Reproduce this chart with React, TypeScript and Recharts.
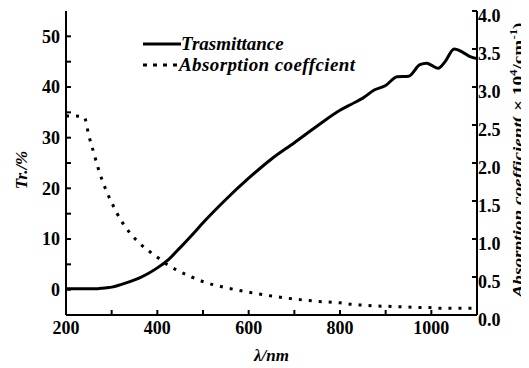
import {
  ComposedChart,
  Line,
  XAxis,
  YAxis,
  Legend,
} from "recharts";

const wavelengths = [
  200, 220, 240, 250, 260, 270, 280, 290, 300, 320, 340, 360, 380, 400, 425,
  450, 475, 500, 550, 600, 650, 700, 750, 800, 825, 850, 875, 900, 925, 950,
  975, 990, 1000, 1015, 1030, 1050, 1070, 1085, 1100,
];

const transmittance = [
  0.2, 0.2, 0.2, 0.2, 0.2, 0.2, 0.3, 0.4, 0.5, 1.0, 1.6, 2.3, 3.2, 4.3, 6.0,
  8.3, 10.7, 13.2, 17.8, 22, 25.8, 29, 32.3, 35.4, 36.6, 37.8, 39.4, 40.3, 42,
  42.1, 44.4, 44.7, 44.3, 43.7, 45.0, 47.5, 46.8, 46, 45.6,
];

const absorption = [
  2.62, 2.62, 2.6, 2.36, 2.15, 1.94, 1.76, 1.61, 1.48, 1.25, 1.08, 0.95, 0.85,
  0.76, 0.65, 0.57, 0.5, 0.44, 0.36, 0.3, 0.25, 0.21, 0.18, 0.16, 0.14, 0.13,
  0.12, 0.115, 0.11, 0.105, 0.1, 0.1, 0.095, 0.09, 0.09, 0.09, 0.09, 0.09, 0.09,
];

const xTicks = [200, 300, 400, 500, 600, 700, 800, 900, 1000];
const xLabeled = [200, 400, 600, 800, 1000];
const leftTicks = [0, 5, 10, 15, 20, 25, 30, 35, 40, 45, 50];
const leftLabeled = [0, 10, 20, 30, 40, 50];
const rightTicks = [0, 0.5, 1, 1.5, 2, 2.5, 3, 3.5, 4];

const data = wavelengths.map((w, i) => ({
  w,
  tr: transmittance[i],
  abs: absorption[i],
}));

const font = "'Liberation Serif', 'Times New Roman', serif";
const tickStyle = { fontFamily: font, fontSize: 18, fontWeight: 700, fill: "#000" };

const RightLabel = (props: any) => {
  const vb = props.viewBox || { x: 469, y: 11, width: 52, height: 304 };
  const cx = vb.x + 46;
  const cy = 160;
  return (
    <text
      x={cx}
      y={cy}
      transform={`rotate(-90 ${cx} ${cy})`}
      textAnchor="middle"
      fontFamily={font}
      fontSize={15}
      fontWeight={700}
      fill="#000"
      textLength={275}
      lengthAdjust="spacingAndGlyphs"
    >
      <tspan fontStyle="italic">Absorption coefficient</tspan>
      <tspan>( × 10</tspan>
      <tspan fontSize={10} dy={-6}>4</tspan>
      <tspan dy={6}>/cm</tspan>
      <tspan fontSize={10} dy={-6}>-1</tspan>
      <tspan dy={6}>)</tspan>
    </text>
  );
};

const LeftLabel = (props: any) => {
  const vb = props.viewBox || { x: 0, y: 11, width: 58, height: 304 };
  const cx = vb.x + 19;
  const cy = 170;
  return (
    <text
      x={cx}
      y={cy}
      transform={`rotate(-90 ${cx} ${cy})`}
      textAnchor="middle"
      fontFamily={font}
      fontSize={17}
      fontWeight={700}
      fontStyle="italic"
      fill="#000"
    >
      Tr./%
    </text>
  );
};

const LegendBox = () => (
  <div style={{ fontFamily: font, fontSize: 19, fontWeight: 700, fontStyle: "italic", lineHeight: "21px" }}>
    <div style={{ display: "flex", alignItems: "center" }}>
      <svg width={38} height={10}>
        <line x1={0} y1={5} x2={38} y2={5} stroke="#000" strokeWidth={3} />
      </svg>
      <span>Trasmittance</span>
    </div>
    <div style={{ display: "flex", alignItems: "center" }}>
      <svg width={36} height={10}>
        <line x1={0} y1={5} x2={36} y2={5} stroke="#000" strokeWidth={3} strokeDasharray="4 6" />
      </svg>
      <span style={{ letterSpacing: "0.4px" }}>Absorption coeffcient</span>
    </div>
  </div>
);

export default function App() {
  return (
    <div style={{ marginTop: -8 }}>
      <ComposedChart
        width={521}
        height={368}
        data={data}
        margin={{ top: 11, right: 0, bottom: 7, left: 0 }}
      >
        <XAxis
          dataKey="w"
          type="number"
          domain={[200, 1100]}
          ticks={xTicks}
          interval={0}
          tickSize={-5}
          tickMargin={11}
          height={46}
          stroke="#000"
          strokeWidth={2}
          tick={tickStyle}
          tickFormatter={(v: number) => (xLabeled.includes(v) ? String(v) : "")}
          label={{
            value: "λ/nm",
            position: "insideBottom",
            offset: 0,
            style: { fontFamily: font, fontSize: 17, fontWeight: 700, fontStyle: "italic", fill: "#000" },
          }}
        />
        <XAxis
          xAxisId="top"
          dataKey="w"
          type="number"
          orientation="top"
          domain={[200, 1100]}
          ticks={xTicks}
          interval={0}
          tickSize={-5}
          height={0}
          stroke="#000"
          strokeWidth={2}
          tick={false}
        />
        <YAxis
          yAxisId="left"
          type="number"
          domain={[-5, 55]}
          ticks={leftTicks}
          interval={0}
          tickSize={-5}
          tickMargin={11}
          width={58}
          stroke="#000"
          strokeWidth={2}
          tick={tickStyle}
          tickFormatter={(v: number) => (leftLabeled.includes(v) ? String(v) : "")}
          label={{ content: LeftLabel }}
        />
        <YAxis
          yAxisId="right"
          orientation="right"
          type="number"
          domain={[0, 4]}
          ticks={rightTicks}
          interval={0}
          tickSize={-5}
          tickMargin={6}
          width={52}
          stroke="#000"
          strokeWidth={2}
          tick={{ ...tickStyle, dy: 5 }}
          tickFormatter={(v: number) => v.toFixed(1)}
          label={{ content: RightLabel }}
        />
        <Legend
          layout="vertical"
          verticalAlign="middle"
          align="center"
          content={LegendBox}
          wrapperStyle={{ top: 33, left: 135, width: 300 }}
        />
        <Line
          yAxisId="left"
          dataKey="tr"
          name="Trasmittance"
          type="monotone"
          stroke="#000"
          strokeWidth={3}
          dot={false}
          isAnimationActive={false}
        />
        <Line
          yAxisId="right"
          dataKey="abs"
          name="Absorption coeffcient"
          type="monotone"
          stroke="#000"
          strokeWidth={3}
          strokeDasharray="3 7"
          dot={false}
          isAnimationActive={false}
        />
      </ComposedChart>
    </div>
  );
}
